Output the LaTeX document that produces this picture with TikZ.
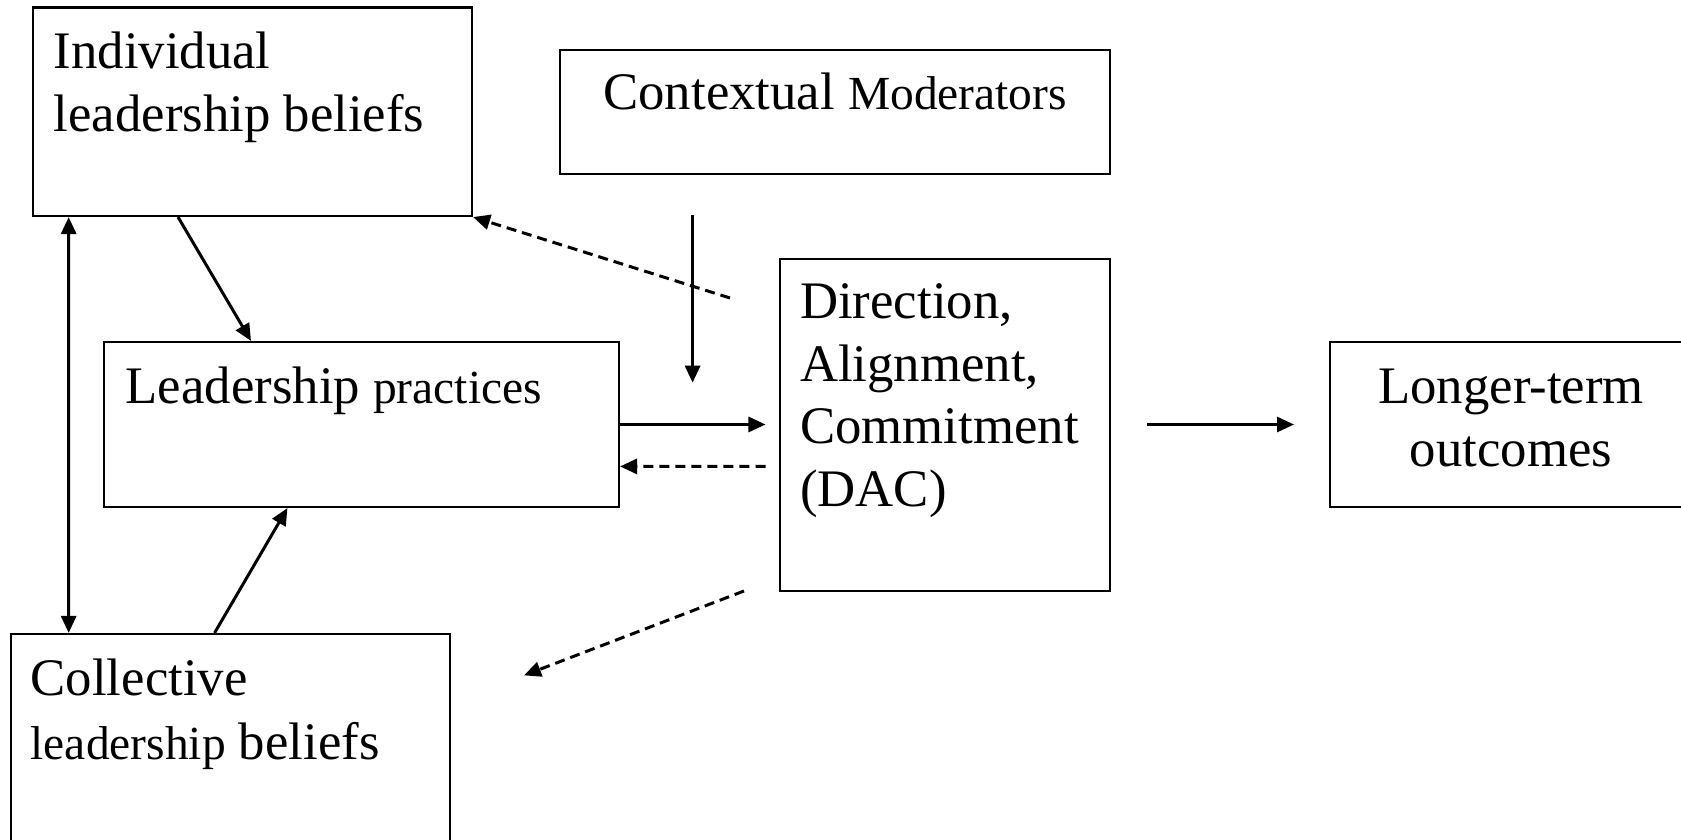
\documentclass[tikz,border=0pt]{standalone}
\usepackage{fontspec}
\setmainfont{Liberation Serif}
\usetikzlibrary{arrows.meta, positioning, fit}

\newcommand{\bigtxt}{\fontsize{15}{18}\selectfont}
\newcommand{\smalltxt}{\fontsize{13.5}{18}\selectfont}
\newcommand{\dactxt}{\fontsize{15}{17.85}\selectfont}

\tikzset{
  box/.style={draw, line width=0.6pt, inner sep=0pt},
  txt/.style={anchor=base west, align=left, inner sep=0pt, font=\bigtxt},
  link/.style={line width=0.85pt, -{Triangle[length=0.17cm, width=0.15cm]}},
  back/.style={link, dash pattern=on 0.1cm off 0.06cm},
}

\begin{document}
\begin{tikzpicture}[x=0.01cm, y=-0.01cm]
  \useasboundingbox (0,0) rectangle (1681,840);

  % Boxes
  \node[box, fit={(33,7.5) (472,216)}] (indiv) {};
  \node[box, fit={(560,50) (1110,174)}] (ctx) {};
  \node[box, fit={(104,342) (619,507)}] (prac) {};
  \node[box, fit={(780,259) (1110,591)}] (dac) {};
  \node[box, fit={(1330,342) (1695,507)}] (outc) {};
  \node[box, fit={(11,634) (450,850)}] (coll) {};

  % Texts (anchored on the baseline of the last line)
  \node[txt] (indiv-t) at (53,132) {Individual\\leadership beliefs};
  \node[txt] (ctx-t) at (602.7,109.3) {Contextual {\smalltxt Moderators}};
  \node[txt] (prac-t) at (125,403.3) {Leadership {\smalltxt practices}};
  \node[txt, font=\dactxt] (dac-t) at (799.5,506.7) {Direction,\\Alignment,\\Commitment\\(DAC)};
  \node[txt, anchor=base, align=center] (outc-t) at (1511,466.7) {Longer-term\\outcomes};
  \node[txt] (coll-t) at (30,759) {Collective\\{\smalltxt leadership} beliefs};

  % Free ends
  \coordinate (mod-a) at (692.6,215.5);
  \coordinate (mod-b) at (692.6,382.7);
  \coordinate (fb-a) at (730,298);
  \coordinate (dac-in) at (765.5,424.5);
  \coordinate (dac-back) at (765.5,466.4);
  \coordinate (fb-b) at (744,591);
  \coordinate (fb-c) at (524,675.4);
  \coordinate (out-a) at (1147,424.5);
  \coordinate (out-b) at (1294,424.5);

  % Solid arrows
  \draw[link, {Triangle[length=0.17cm, width=0.15cm]}-{Triangle[length=0.17cm, width=0.15cm]}]
    ([xshift=0.367cm]indiv.south west) -- ([xshift=0.587cm]coll.north west);
  \draw[link] ([xshift=1.46cm]indiv.south west) -- ([xshift=1.48cm]prac.north west);
  \draw[link] ([xshift=2.045cm]coll.north west) -- ([xshift=1.844cm]prac.south west);
  \draw[link] (mod-a) -- (mod-b);
  \draw[link] (prac.east) -- (dac-in);
  \draw[link] (out-a) -- (out-b);

  % Dashed feedback
  \draw[back] (fb-a) -- (indiv.south east);
  \draw[back] (dac-back) -- ([yshift=-0.419cm]prac.east);
  \draw[back] (fb-b) -- (fb-c);
\end{tikzpicture}
\end{document}
